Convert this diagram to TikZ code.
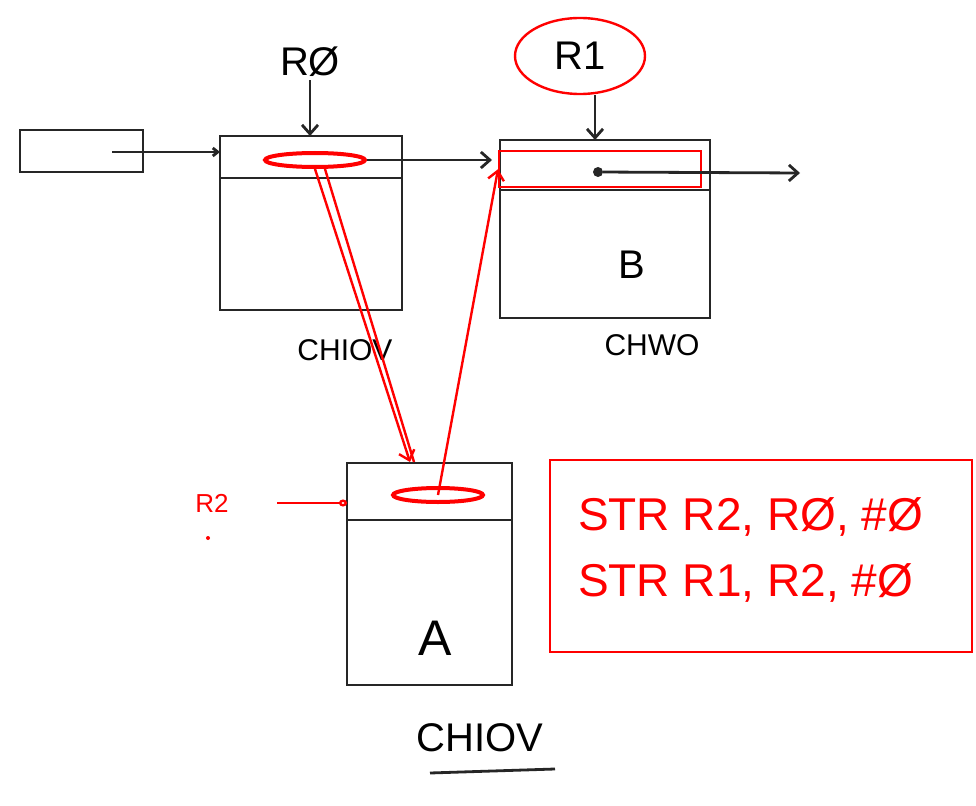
\documentclass[tikz,border=0pt]{standalone}
\usepackage{fontspec}
\setmainfont{Liberation Sans}
\usetikzlibrary{arrows.meta,shapes.geometric}
\begin{document}
\begin{tikzpicture}[x=1pt,y=-1pt,
  ink/.style={line width=2.8pt, draw=black!85},
  redink/.style={line width=2.4pt, draw=red},
  cell/.style={ink, inner sep=0pt, outer sep=0pt},
  tip/.style={-{Straight Barb[length=9pt,width=16pt]}},
  huge/.style={font=\fontsize{40}{48}\selectfont},
  mid/.style={font=\fontsize{30}{36}\selectfont},
  codetxt/.style={font=\fontsize{46}{66}\selectfont, text=red, align=left, inner sep=0pt},
  hole/.style={ellipse, draw=red, line width=4pt, inner sep=0pt}
]
\useasboundingbox[fill=white] (0,0) rectangle (976,805);

% left small box
\node[cell, minimum width=123pt, minimum height=42pt, anchor=north west] (lbox) at (20,130) {};
\coordinate (lstart) at (112,152);

% box R0
\node[cell, minimum width=182pt, minimum height=42pt, anchor=north west] (r0top) at (220,136) {};
\node[cell, minimum width=182pt, minimum height=132pt, anchor=north] (r0body) at (r0top.south) {};
\node[huge] (r0lab) at (310,62) {RØ};
\node[mid] (r0name) at (345,350) {CHIOV};
\node[hole, minimum width=100pt, minimum height=14pt] (e0) at (315,160) {};

% box B
\node[cell, minimum width=210pt, minimum height=50pt, anchor=north west] (btop) at (500,140) {};
\node[cell, minimum width=210pt, minimum height=128pt, anchor=north] (bbody) at (btop.south) {};
\node[huge] (blab) at (632,265) {B};
\node[mid] (bname) at (652,345) {CHWO};
\node[huge, ellipse, draw=red, line width=2.4pt, minimum width=130pt, minimum height=76pt, inner sep=0pt] (r1lab) at (580,56) {R1};
\node[draw=red, line width=2.4pt, minimum width=202pt, minimum height=36pt, inner sep=0pt, anchor=north west] (bred) at (498,150) {};
\node[circle, fill=black!85, inner sep=0pt, minimum size=10pt] (bdot) at (598,172) {};
\coordinate (bout) at (800,173);

% box A
\node[cell, minimum width=165pt, minimum height=57pt, anchor=north west] (atop) at (347,463) {};
\node[cell, minimum width=165pt, minimum height=165pt, anchor=north] (abody) at (atop.south) {};
\node[font=\fontsize{50}{60}\selectfont] (alab) at (435,638) {A};
\node[huge] (aname) at (480,738) {CHIOV};
\draw[ink] (430,773) -- (555,769);
\node[hole, minimum width=90pt, minimum height=14pt] (eA) at (438,495) {};
\coordinate (ahit) at (410,462);

% R2 label
\node[font=\fontsize{26}{30}\selectfont, text=red] (r2) at (212,503) {R2};
\node[circle, fill=red, inner sep=0pt, minimum size=4pt] (rdot) at (208,538) {};

% code box
\node[draw=red, line width=2.4pt, minimum width=422pt, minimum height=192pt] (code) at (761,556) {};
\node[codetxt, anchor=west] (codelines) at (578,550) {STR R2, RØ, \#Ø\\STR R1, R2, \#Ø};

% black connectors
\draw[ink, -{Straight Barb[length=5pt,width=8pt]}] (lstart) -- (lstart -| r0top.west);
\draw[ink, tip] (r0lab.south) -- (r0lab.south |- r0top.north);
\draw[ink, tip] ([xshift=15pt]r1lab.south) -- ([xshift=15pt]r1lab.south |- btop.north);
\draw[ink, tip, shorten >=8pt] (e0.east) -- (e0.east -| btop.west);
\draw[ink, tip] (bdot) -- (bout);

% red connectors
\draw[redink, tip] (e0.south) -- (ahit);
\draw[redink] ([xshift=10pt]e0.south) -- ([xshift=4pt]ahit);
\draw[redink, tip] (eA.center) -- (bred.west);
\draw[redink, -{Circle[open,length=8pt,width=7pt]}, shorten <=45pt] (r2.east) -- (r2.east -| atop.west);
\end{tikzpicture}
\end{document}
